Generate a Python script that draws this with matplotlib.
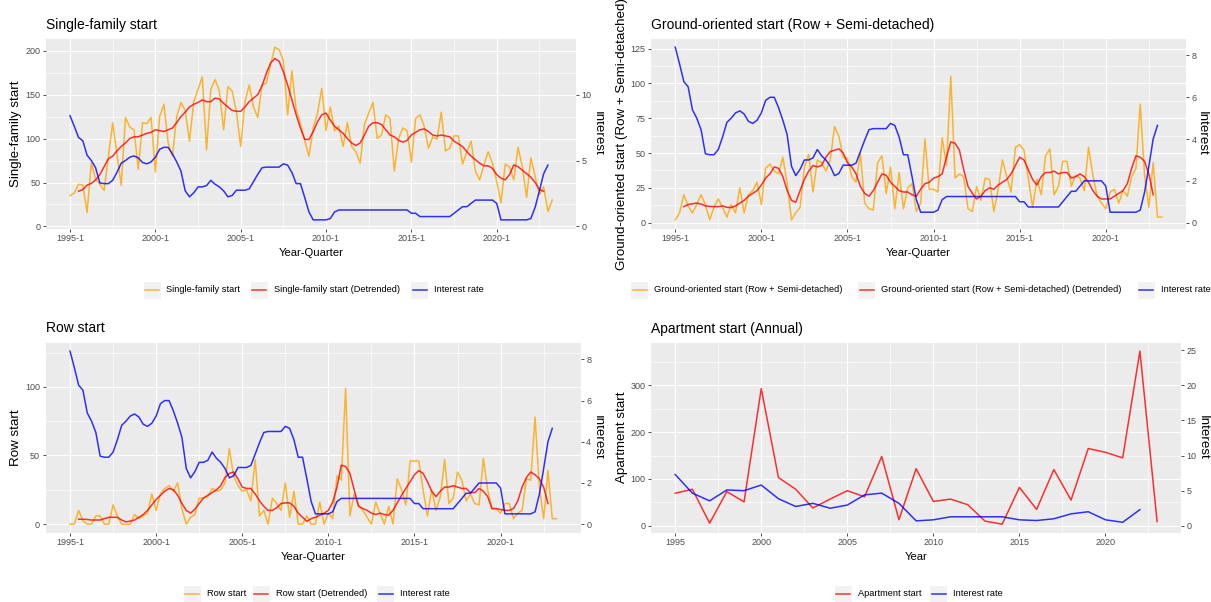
import numpy as np
import matplotlib.pyplot as plt
from matplotlib.patches import Rectangle
from matplotlib.lines import Line2D
from matplotlib.transforms import Bbox, TransformedBbox

plt.rcParams['font.family'] = ['Liberation Sans', 'DejaVu Sans']

W, H = 1211, 602
RATE_SCALE = 15  # interest rate is drawn on the starts axis, x15

# ---- data -------------------------------------------------------------
quarter_labels = [f"{y}-{q}" for y in range(1995, 2024) for q in range(1, 5)][:114]
years = list(range(1995, 2024))

interest_q = [8.4, 7.6, 6.75, 6.5, 5.4, 5.0, 4.45, 3.3, 3.25, 3.25,
              3.5, 4.1, 4.8, 5.0, 5.25, 5.35, 5.2, 4.85, 4.75, 4.9,
              5.25, 5.85, 6.0, 6.0, 5.5, 4.9, 4.2, 2.7, 2.25, 2.55,
              3.0, 3.0, 3.1, 3.5, 3.2, 3.0, 2.7, 2.25, 2.35, 2.75,
              2.75, 2.75, 2.85, 3.4, 3.95, 4.45, 4.5, 4.5, 4.5, 4.5,
              4.75, 4.65, 4.1, 3.25, 3.25, 2.2, 1.1, 0.5, 0.5, 0.5,
              0.5, 0.6, 1.1, 1.25, 1.25, 1.25, 1.25, 1.25, 1.25, 1.25,
              1.25, 1.25, 1.25, 1.25, 1.25, 1.25, 1.25, 1.25, 1.25, 1.25,
              1.0, 1.0, 0.75, 0.75, 0.75, 0.75, 0.75, 0.75, 0.75, 0.75,
              1.0, 1.25, 1.5, 1.5, 1.75, 2.0, 2.0, 2.0, 2.0, 2.0,
              1.75, 0.5, 0.5, 0.5, 0.5, 0.5, 0.5, 0.5, 0.6, 1.45,
              2.7, 4.0, 4.65]

single_family = [35, 38, 48, 47, 16, 72, 54, 48, 41, 80,
                 118, 82, 47, 124, 113, 110, 65, 118, 117, 124,
                 62, 125, 139, 95, 80, 125, 141, 132, 97, 142,
                 156, 170, 87, 156, 167, 154, 110, 159, 154, 130,
                 91, 142, 161, 136, 124, 161, 163, 184, 204, 201,
                 189, 127, 177, 133, 117, 98, 80, 112, 129, 157,
                 109, 136, 109, 114, 91, 118, 91, 85, 72, 116,
                 129, 141, 100, 104, 127, 123, 63, 100, 112, 109,
                 73, 123, 127, 114, 89, 102, 99, 130, 86, 89,
                 103, 103, 71, 85, 97, 63, 53, 70, 85, 72,
                 51, 27, 71, 68, 53, 90, 68, 33, 78, 57,
                 36, 45, 17, 30]
# detrended series start at the third quarter (1995-3)
single_family_dt = [40, 42, 47, 49, 53, 59, 68, 77, 80, 86,
                    91, 95, 100, 102, 102, 104, 106, 107, 110, 109,
                    108, 110, 112, 118, 125, 130, 136, 139, 141, 144,
                    142, 142, 146, 145, 140, 136, 132, 131, 131, 136,
                    142, 146, 150, 160, 174, 186, 191, 188, 176, 161,
                    144, 127, 112, 99, 99, 108, 119, 127, 129, 121,
                    114, 110, 106, 100, 95, 92, 95, 104, 114, 118,
                    118, 116, 110, 104, 102, 98, 96, 98, 104, 107,
                    110, 111, 108, 104, 103, 104, 103, 102, 97, 94,
                    91, 85, 80, 76, 72, 69, 69, 66, 59, 55,
                    53, 59, 70, 68, 64, 60, 56, 50, 42, 40]

ground_oriented = [2, 7, 20, 12, 7, 13, 20, 13, 2, 11,
                   17, 11, 4, 13, 7, 25, 7, 20, 23, 29,
                   13, 39, 42, 37, 35, 47, 28, 2, 7, 11,
                   40, 49, 22, 45, 43, 37, 45, 69, 62, 47,
                   46, 33, 29, 50, 14, 10, 9, 43, 48, 21,
                   40, 10, 36, 10, 25, 28, 8, 14, 60, 24,
                   24, 22, 61, 41, 105, 32, 35, 33, 10, 8,
                   26, 16, 32, 31, 8, 24, 45, 33, 22, 54,
                   56, 52, 32, 11, 31, 20, 48, 53, 20, 26,
                   44, 44, 26, 34, 32, 23, 54, 34, 19, 14,
                   10, 22, 24, 14, 23, 19, 33, 39, 85, 34,
                   11, 43, 4, 4]
ground_oriented_dt = [11.5, 13, 13.6, 14, 13.4, 12, 11.7, 11.5, 11.5, 12,
                      11, 10.8, 12, 14, 16, 19, 21, 23, 27, 32,
                      35, 40, 39, 33, 23, 16, 14.6, 23, 31, 37,
                      41, 40, 41, 47, 51, 52, 53, 50, 43, 40,
                      35, 26, 21, 19, 23, 29, 35, 34, 29, 26,
                      23, 22, 22, 20, 19, 24, 28, 29, 32, 33,
                      35, 47, 58, 57, 52, 38, 26, 21, 17, 19,
                      23, 25, 24, 27, 29, 31, 35, 41, 47, 45,
                      38, 31, 27, 33, 36, 36, 37, 35, 36, 36,
                      32, 33, 35, 33, 29, 23, 19, 17, 17, 17,
                      19, 21, 23, 28, 39, 48, 47, 44, 35, 20]

row_start = [0, 0, 10, 2.5, 0, 0, 6, 6, 0, 0,
             14, 6, 0, 0, 0, 7, 4, 6, 8, 22,
             10, 22, 26, 28, 24, 30, 11, 0, 5, 7,
             19, 19, 20, 26, 24, 25, 30, 55, 35, 28,
             24, 25, 17, 47, 6, 10, 0, 19, 15, 10,
             30, 5, 24, 0, 0, 6, 0, 0, 16, 0,
             8, 4, 35, 32, 99, 6, 22, 14, 10, 5,
             0, 16, 8, 0, 13, 0, 33, 25, 14, 46,
             46, 46, 25, 6, 25, 10, 20, 47, 15, 19,
             38, 32, 17, 22, 15, 14, 48, 25, 11, 11,
             8, 15, 15, 4, 8, 10, 33, 32, 78, 27,
             4, 39, 4, 4]
row_start_dt = [3.6, 3.6, 3.4, 3, 3, 3, 4, 5, 5, 5,
                3, 1.7, 2.2, 3, 5, 7, 10, 14, 18, 21,
                24, 26, 25, 21, 15, 10, 8, 11, 15, 19,
                21, 23, 25, 28, 34, 37, 38, 33, 27, 26,
                26, 22, 17, 13, 10, 10, 12, 15, 15.5, 15.5,
                13, 8, 5, 2, 4, 5, 6.5, 8, 10, 16,
                27, 43, 42, 37, 25, 13, 11.4, 10, 8, 7,
                8, 7, 6.5, 10, 15.5, 21, 26, 31, 36, 39,
                37, 31, 24, 20, 24, 27, 27, 28, 27, 26,
                26, 23, 23, 26, 24, 20, 11.4, 11.4, 10.7, 10,
                10, 11.4, 17, 27, 34, 38, 36, 33, 27, 15]

apartment = [69.5, 78, 5.7, 73, 51, 293, 103, 78, 38, 57,
             75, 62, 148, 13, 122, 52, 57, 45, 10, 3.5,
             82, 35, 120, 55, 165, 157, 145, 373, 9]
interest_y = [7.3, 4.65, 3.55, 5.1, 5.0, 5.8, 3.85, 2.75, 3.2, 2.5,
              2.95, 4.4, 4.65, 3.2, 0.7, 0.85, 1.28, 1.28, 1.28, 1.28,
              0.85, 0.75, 1.0, 1.7, 2.0, 0.85, 0.5, 2.3]

ORANGE, RED, BLUE = '#FFA500', '#FF0000', '#0000FF'

fig = plt.figure(figsize=(W / 100, H / 100), dpi=100)
left_half = TransformedBbox(Bbox([[0, 0], [604 / W, 1]]), fig.transFigure)


def fx(px):
    return px / W


def fy(py):
    return 1 - py / H


def add_panel(l, t, r, b):
    return fig.add_axes([fx(l), fy(b), (r - l) / W, (b - t) / H])


def padded(*series):
    vals = np.concatenate([np.asarray(s, float) for s in series])
    lo, hi = vals.min(), vals.max()
    pad = 0.05 * (hi - lo)
    return lo - pad, hi + pad


def midpoints(major, lim):
    step = major[1] - major[0]
    m = np.arange(major[0] - step / 2, lim[1], step)
    return m[(m > lim[0]) & (m < lim[1])]


def style(ax, xlim, ylim, xmajor, xlabels, ymajor, sec_ticks):
    ax.set_facecolor('#EBEBEB')
    for s in ax.spines.values():
        s.set_visible(False)
    ax.set_xlim(xlim)
    ax.set_ylim(ylim)
    ax.set_xticks(xmajor)
    ax.set_xticklabels(xlabels)
    ax.set_xticks(midpoints(xmajor, xlim), minor=True)
    ax.set_yticks(ymajor)
    ax.set_yticks(midpoints(ymajor, ylim), minor=True)
    ax.set_axisbelow(True)
    ax.grid(which='major', color='white', lw=0.85)
    ax.grid(which='minor', color='white', lw=0.45)
    ax.tick_params(which='major', length=2.5, width=0.6, color='#333333',
                   labelsize=6.5, labelcolor='#4D4D4D')
    ax.tick_params(axis='x', pad=1.5)
    ax.tick_params(axis='y', pad=1.6)
    ax.tick_params(which='minor', length=0)
    sec = ax.secondary_yaxis('right', functions=(lambda v: v / RATE_SCALE,
                                                 lambda v: v * RATE_SCALE))
    sec.set_yticks(sec_ticks)
    sec.spines['right'].set_visible(False)
    sec.tick_params(length=2.5, width=0.6, color='#333333', labelsize=6.5,
                    labelcolor='#4D4D4D', pad=1.3)
    return sec


def texts(l, t, r, b, title, xlabel, ylabel, ylabel_x, rate_x, clip=False):
    fig.text(fx(l), fy(t - 10), title, fontsize=10, ha='left', va='baseline')
    fig.text(fx((l + r) / 2), fy(b + 24.5), xlabel, fontsize=8.1,
             ha='center', va='center')
    fig.text(fx(ylabel_x), fy((t + b) / 2), ylabel, fontsize=9.6,
             rotation=90, ha='center', va='center')
    lab = fig.text(fx(rate_x), fy((t + b) / 2), 'Interest', fontsize=9.6,
                   rotation=270, ha='center', va='center')
    if clip:
        lab.set_clip_box(left_half)
        lab.set_clip_on(True)


def legend(entries, y):
    for label, color, x0 in entries:
        fig.add_artist(Rectangle((fx(x0), fy(y + 8.5)), 17 / W, 17 / H,
                                 transform=fig.transFigure,
                                 facecolor='#F2F2F2', edgecolor='none'))
        fig.add_artist(Line2D([fx(x0 + 1.5), fx(x0 + 15.5)], [fy(y), fy(y)],
                              transform=fig.transFigure, color=color,
                              lw=1.1, alpha=0.8))
        fig.text(fx(x0 + 23), fy(y), label, fontsize=6.7, ha='left',
                 va='center')


q_all = np.arange(len(single_family))
q_dt = np.arange(2, 2 + len(single_family_dt))
q_rate = np.arange(len(interest_q))
rate_q = np.array(interest_q) * RATE_SCALE
qx_lim = (q_all[0] - 0.05 * (q_all[-1] - q_all[0]), q_all[-1] + 0.05 * (q_all[-1] - q_all[0]))
q_major = np.arange(0, 101, 20)
q_major_labels = [quarter_labels[i] for i in q_major]

line_kw = dict(lw=1.1, alpha=0.8)

# ---- Single-family start ---------------------------------------------
box = (45.9, 38.5, 576.3, 228.5)
ax = add_panel(*box)
ax.plot(q_all, single_family, color=ORANGE, **line_kw)
ax.plot(q_dt, single_family_dt, color=RED, **line_kw)
ax.plot(q_rate, rate_q, color=BLUE, **line_kw)
style(ax, qx_lim, padded(single_family, single_family_dt, rate_q),
      q_major, q_major_labels, [0, 50, 100, 150, 200], [0, 5, 10])
texts(*box, 'Single-family start', 'Year-Quarter', 'Single-family start',
      16, 598, clip=True)
legend([('Single-family start', ORANGE, 143.5),
        ('Single-family start (Detrended)', RED, 250.7),
        ('Interest rate', BLUE, 411.4)], 290)

# ---- Ground-oriented start ---------------------------------------------
box = (650.9, 38.5, 1186.1, 228.5)
ax = add_panel(*box)
ax.plot(q_all, ground_oriented, color=ORANGE, **line_kw)
ax.plot(q_dt, ground_oriented_dt, color=RED, **line_kw)
ax.plot(q_rate, rate_q, color=BLUE, **line_kw)
style(ax, qx_lim, padded(ground_oriented, ground_oriented_dt, rate_q),
      q_major, q_major_labels, [0, 25, 50, 75, 100, 125], [0, 2, 4, 6, 8])
texts(*box, 'Ground-oriented start (Row + Semi-detached)', 'Year-Quarter',
      'Ground-oriented start (Row + Semi-detached)', 622, 1202)
legend([('Ground-oriented start (Row + Semi-detached)', ORANGE, 631),
        ('Ground-oriented start (Row + Semi-detached) (Detrended)', RED, 858),
        ('Interest rate', BLUE, 1137.8)], 290)

# ---- Row start ---------------------------------------------------------
box = (45.7, 342.5, 580.9, 532.8)
ax = add_panel(*box)
ax.plot(q_all, row_start, color=ORANGE, **line_kw)
ax.plot(q_dt, row_start_dt, color=RED, **line_kw)
ax.plot(q_rate, rate_q, color=BLUE, **line_kw)
style(ax, qx_lim, padded(row_start, row_start_dt, rate_q),
      q_major, q_major_labels, [0, 50, 100], [0, 2, 4, 6, 8])
texts(*box, 'Row start', 'Year-Quarter', 'Row start', 16, 598, clip=True)
legend([('Row start', ORANGE, 183.7),
        ('Row start (Detrended)', RED, 252.6),
        ('Interest rate', BLUE, 377)], 594)

# ---- Apartment start (annual) -----------------------------------------
box = (651.1, 342.5, 1181.2, 532.8)
ax = add_panel(*box)
yr = np.array(years)
rate_y = np.array(interest_y) * RATE_SCALE
ax.plot(yr, apartment, color=RED, **line_kw)
ax.plot(yr[:len(rate_y)], rate_y, color=BLUE, **line_kw)
span = yr[-1] - yr[0]
style(ax, (yr[0] - 0.05 * span, yr[-1] + 0.05 * span),
      padded(apartment, rate_y), np.arange(1995, 2021, 5),
      [str(v) for v in range(1995, 2021, 5)], [0, 100, 200, 300],
      [0, 5, 10, 15, 20, 25])
texts(*box, 'Apartment start (Annual)', 'Year', 'Apartment start', 622, 1203)
legend([('Apartment start', RED, 834.6),
        ('Interest rate', BLUE, 930)], 594)

fig.savefig('out.png', dpi=100, facecolor='white')
